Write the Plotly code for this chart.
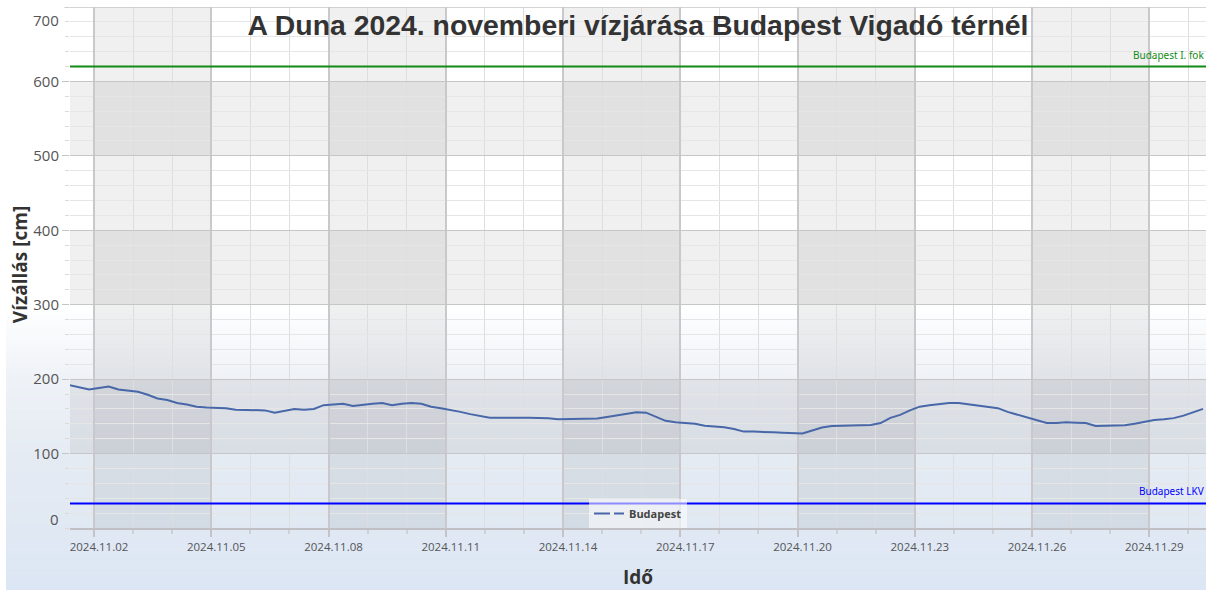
import pandas as pd
import plotly.graph_objects as go

# ---------------- data ----------------
times = pd.date_range("2024-11-01 09:00", periods=117, freq="6h")
water_level_cm = [
    192, 189, 186, 188, 190, 186, 185, 183, 179, 174,
    172, 168, 166, 163, 162, 162, 161, 159, 159, 159,
    158, 155, 157, 160, 159, 160, 165, 166, 167, 164,
    166, 167, 168, 165, 167, 168, 167, 163, 161, 159,
    156, 153, 150, 148, 148, 147.5, 148, 148, 148, 147.5,
    146, 146, 146, 146, 147, 149, 151, 153, 155.6, 155,
    150, 144, 142, 141, 140, 137.5, 136.5, 135.5, 133, 129.5,
    129.5, 129.5, 128.5, 128, 127.5, 127, 131, 135, 137, 137,
    137.5, 138, 138.5, 141, 148, 152, 158, 163, 165, 167,
    168, 168, 166, 165, 163, 161, 156, 152, 149, 145,
    141, 141, 142, 141.5, 141, 137, 137, 137, 138, 140,
    142.5, 145, 146, 147.6, 151, 155, 160,
]
series_name = "Budapest"
level_first_degree = 620     # Budapest I. fok
level_lkv = 33               # Budapest LKV
first_degree_label = "Budapest I. fok"
lkv_label = "Budapest LKV"
y_tick_values = [0, 100, 200, 300, 400, 500, 600, 700]
y_tick_labels = ["0", "100", "200", "300", "400", "500", "600", "700"]
title_text = "A Duna 2024. novemberi vízjárása Budapest Vigadó térnél"
x_title = "Idő"
y_title = "Vízállás [cm]"

# ---------------- styling ----------------
X_RANGE = ["2024-11-01 09:16", "2024-11-30 10:48"]
DAY_MS = 86400000
column_starts = ["2024-11-02", "2024-11-08", "2024-11-14", "2024-11-20", "2024-11-26"]
band_ranges = [(100, 200), (300, 400), (500, 600)]
STRIPE = "rgba(0,0,0,0.058)"

fig = go.Figure()

fig.add_trace(go.Scatter(
    x=times, y=water_level_cm, mode="lines", name=series_name,
    line=dict(color="#4767a8", width=2), showlegend=False,
))
# legend entry (dashed sample as in the reference legend)
fig.add_trace(go.Scatter(
    x=[None], y=[None], mode="lines", name=series_name,
    line=dict(color="#4767a8", width=2, dash="16px,4px"), showlegend=True,
))

shapes = []

# background gradient (paper coords); plot area: x 70..1206, y 7..527.7 px
def py(px):
    return (527.7 - px) / 520.7

stops = [(305, (255, 255, 255)), (380, (238, 242, 247)), (460, (229, 235, 243)), (592, (220, 230, 244))]
N = 60
y0px, y1px = 305, 592
for i in range(N):
    a = y0px + (y1px - y0px) * i / N
    b = y0px + (y1px - y0px) * (i + 1) / N
    m = (a + b) / 2
    for j in range(len(stops) - 1):
        if stops[j][0] <= m <= stops[j + 1][0]:
            f = (m - stops[j][0]) / (stops[j + 1][0] - stops[j][0])
            c = [round(stops[j][1][k] + f * (stops[j + 1][1][k] - stops[j][1][k])) for k in range(3)]
            break
    shapes.append(dict(type="rect", xref="paper", yref="paper",
                       x0=(6 - 70) / 1136, x1=1.01, y0=py(b + 0.6), y1=py(a),
                       fillcolor=f"rgb({c[0]},{c[1]},{c[2]})", line=dict(width=0), layer="below"))

# vertical stripes
for s in column_starts:
    e = (pd.Timestamp(s) + pd.Timedelta(days=3)).strftime("%Y-%m-%d")
    shapes.append(dict(type="rect", xref="x", yref="paper", x0=s, x1=e, y0=0, y1=1,
                       fillcolor=STRIPE, line=dict(width=0), layer="below"))
# horizontal bands
for lo, hi in band_ranges:
    shapes.append(dict(type="rect", xref="paper", yref="y", x0=0, x1=1, y0=lo, y1=hi,
                       fillcolor=STRIPE, line=dict(width=0), layer="below"))

# threshold lines
shapes.append(dict(type="line", xref="paper", yref="y", x0=0, x1=1,
                   y0=level_first_degree, y1=level_first_degree,
                   line=dict(color="#138a13", width=2)))
shapes.append(dict(type="line", xref="paper", yref="y", x0=0, x1=1,
                   y0=level_lkv, y1=level_lkv,
                   line=dict(color="#0000ff", width=2)))

annotations = [
    dict(text=first_degree_label, xref="paper", yref="y", x=1, y=level_first_degree,
         xanchor="right", yanchor="bottom", yshift=3, showarrow=False,
         font=dict(family="Noto Sans", size=10, color="#138a13")),
    dict(text=lkv_label, xref="paper", yref="y", x=1, y=level_lkv,
         xanchor="right", yanchor="bottom", yshift=3, showarrow=False,
         font=dict(family="Noto Sans", size=10, color="#0000ff")),
    # end labels of the y axis are drawn inside the plot range, like the reference
    dict(text=y_tick_labels[-1], xref="paper", yref="y", x=0, y=y_tick_values[-1],
         xanchor="right", yanchor="middle", xshift=-9, yshift=-13, showarrow=False,
         font=dict(family="Open Sans", size=15, color="#555555")),
    dict(text=y_tick_labels[0], xref="paper", yref="y", x=0, y=y_tick_values[0],
         xanchor="right", yanchor="middle", xshift=-9, yshift=9, showarrow=False,
         font=dict(family="Open Sans", size=15, color="#555555")),
    dict(text=y_title, xref="paper", yref="paper", x=(20 - 70) / 1136, y=py(265),
         xanchor="center", yanchor="middle", textangle=-90, showarrow=False,
         font=dict(family="Open Sans", size=19, color="#333333", weight="bold")),
]

fig.update_layout(
    width=1206, height=590,
    margin=dict(l=70, r=0, t=7, b=62),
    paper_bgcolor="white",
    plot_bgcolor="rgba(0,0,0,0)",
    shapes=shapes,
    annotations=annotations,
    title=dict(text=title_text, x=0.529, xanchor="center", y=(590 - 25) / 590, yanchor="middle",
               xref="container", yref="container",
               font=dict(family="Liberation Sans", size=28.4, color="#333333", weight="bold")),
    showlegend=True,
    legend=dict(x=0.5, xanchor="center", y=0, yanchor="bottom", orientation="h",
                bgcolor="rgba(255,255,255,0.55)", borderwidth=0,
                font=dict(family="Open Sans", size=11, color="#444444", weight="bold"),
                itemwidth=30),
)

fig.update_xaxes(
    type="date", range=X_RANGE,
    tick0="2024-11-02", dtick=3 * DAY_MS, tickformat="%Y.%m.%d",
    tickfont=dict(family="Open Sans", size=11.5, color="#555555"),
    ticklabelshift=5,
    ticks="outside", ticklen=7, tickcolor="#c4c4c8", tickwidth=1.5,
    showgrid=True, gridcolor="#c9c9cd", gridwidth=1.6,
    minor=dict(dtick=DAY_MS, tick0="2024-11-02", showgrid=True, gridcolor="#dedee0", gridwidth=1,
               ticks="outside", ticklen=4, tickcolor="#d0d0d4"),
    showline=True, linecolor="#c0c0c4", linewidth=1.5,
    zeroline=False,
    title=dict(text=x_title, standoff=18,
               font=dict(family="Open Sans", size=19, color="#333333", weight="bold")),
)

fig.update_yaxes(
    range=[0, 700],
    tickvals=y_tick_values[1:-1], ticktext=y_tick_labels[1:-1],
    tickfont=dict(family="Open Sans", size=15, color="#555555"),
    ticks="outside", ticklen=7, tickcolor="#c4c4c4",
    showgrid=True, gridcolor="#c6c6c6", gridwidth=1.3,
    minor=dict(dtick=20, showgrid=True, gridcolor="#e6e6e6", gridwidth=1,
               ticks="outside", ticklen=4, tickcolor="#dadada"),
    showline=False, zeroline=False,
)
# top border / 700 gridline and its tick
fig.add_shape(type="line", xref="paper", yref="y", x0=0, x1=1, y0=700, y1=700,
              line=dict(color="#c6c6c6", width=1.3))
fig.add_shape(type="line", xref="paper", yref="y", x0=-6 / 1136, x1=0, y0=700, y1=700,
              line=dict(color="#c4c4c4", width=1))

fig.write_html("out.html", config={"displayModeBar": False},
               post_script="document.body.style.margin='0px';document.body.style.overflow='hidden';")
